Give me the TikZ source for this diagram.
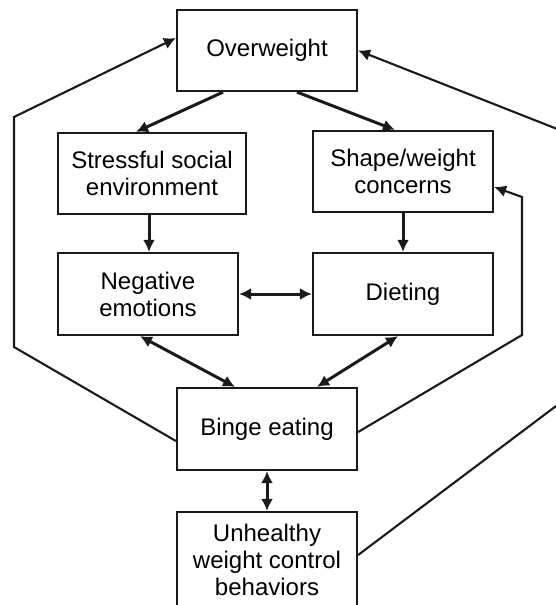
\documentclass[tikz,border=0pt]{standalone}
\usepackage{fontspec}
\setmainfont{Liberation Sans}
\usetikzlibrary{arrows.meta}
\definecolor{ink}{HTML}{1A1A1A}
\begin{document}
\begin{tikzpicture}[x=1pt,y=-1pt,
  box/.style={draw=ink,line width=2.2pt,rectangle,minimum width=180pt,minimum height=81pt,inner sep=0pt,align=center,text=black,font=\fontsize{24}{27}\selectfont},
  tip/.tip={Latex[length=12pt,width=12pt]},
  arr/.style={draw=ink,line width=3pt,-tip},
  darr/.style={draw=ink,line width=3pt,tip-tip},
  fbarr/.style={draw=ink,line width=2.1pt,-tip}]
\useasboundingbox (0,0) rectangle (555,605);
\node[box] (ow) at (267,50.5) {Overweight};
\node[box,minimum width=188pt] (st) at (152,173.5) {Stressful social\\environment};
\node[box] (sh) at (403,171.5) {Shape/weight\\concerns};
\node[box,minimum height=82pt] (ne) at (148,294) {Negative\\emotions};
\node[box,minimum height=82pt] (di) at (403,294) {Dieting};
\node[box,minimum height=82pt] (be) at (267,429) {Binge eating};
\node[box,minimum height=96pt] (uh) at (267,560) {Unhealthy\\weight control\\behaviors};
\coordinate (l1) at (14,347);
\coordinate (l2) at (14,117);
\coordinate (r1) at (522,335);
\coordinate (r2) at (522,197);
\coordinate (o1) at (580,388);
\coordinate (o2) at (580,138);
\draw[arr] ([xshift=-44pt]ow.south) -- ([xshift=-16pt]st.north);
\draw[arr] ([xshift=30pt]ow.south) -- ([xshift=-8pt]sh.north);
\draw[arr] ([xshift=1pt]ne.north |- st.south) -- ([xshift=1pt]ne.north);
\draw[arr] (sh.south) -- (di.north);
\draw[darr] (ne.east) -- (di.west);
\draw[darr] ([xshift=-8pt]ne.south) -- ([xshift=-32pt]be.north);
\draw[darr] ([xshift=-5pt]di.south) -- ([xshift=50pt]be.north);
\draw[darr] (be.south) -- (uh.north);
\draw[fbarr] ([yshift=-12pt]be.west) -- (l1) -- (l2) -- ([yshift=12.5pt]ow.west);
\draw[fbarr] ([yshift=-3pt]be.east) -- (r1) -- (r2) -- ([yshift=-15.5pt]sh.east);
\draw[fbarr] ([yshift=5pt]uh.east) -- (o1) -- (o2) -- (ow.east);
\end{tikzpicture}
\end{document}
